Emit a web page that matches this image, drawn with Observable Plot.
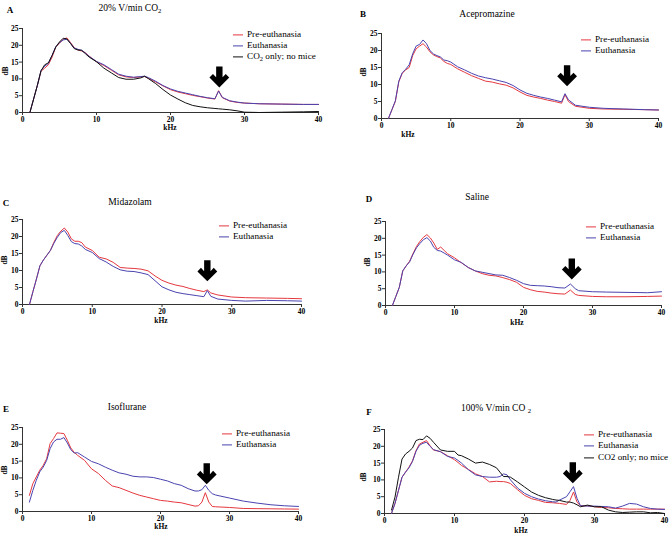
<!DOCTYPE html>
<html><head><meta charset="utf-8">
<script src="https://cdn.jsdelivr.net/npm/d3@7"></script>
<script src="https://cdn.jsdelivr.net/npm/@observablehq/plot@0.6"></script>
<style>
body{margin:0;background:#fff;}
#wrap{position:relative;width:672px;height:536px;font-family:"Liberation Serif","Times New Roman",serif;color:#000;overflow:hidden;background:#fff}
.abs{position:absolute;white-space:nowrap;line-height:1}
.panel{position:absolute}
.letter{font-weight:bold;font-size:9px;transform:translate(-50%,-50%)}
.title{font-size:9.5px;transform:translate(-50%,-50%)}
.ax{font-weight:bold;font-size:7.5px;transform:translate(-50%,-50%)}
.ylab{transform:translate(-50%,-50%) rotate(-90deg)}
.leg{font-size:9.2px;display:flex;align-items:center;transform:translateY(-50%)}
.sw{display:inline-block;width:10px;height:0;border-top:1.3px solid;margin-right:4px}
sub{font-size:70%;vertical-align:-2px;line-height:0}
</style></head>
<body><div id="wrap"></div>
<script>
// ---------- data (kHz, dB) ----------
const freqA = [1,1.5,2,2.5,3,3.5,4,4.5,5,5.5,6,6.5,7,7.5,8,8.5,9,10,11,12,13,14,15,16,16.5,17,18,19,20,21,22,23,24,25,26,26.5,27,28,29,30,32,35,38,40];
const aPre  = [0,4,8,12.3,13.2,14.2,16.5,19.5,20.6,21.8,22.2,20.8,19.3,18.6,18.3,17.8,16.8,15.1,14.0,12.6,11.2,10.6,10.4,10.6,10.7,10.2,9.1,7.9,6.8,6.1,5.6,5.1,4.7,4.3,4.0,6.5,4.4,3.4,3.0,2.8,2.6,2.5,2.4,2.4];
const aEuth = [0,4,8,12.5,13.8,14.6,17,19.6,20.8,21.6,21.8,20.6,19.2,18.8,18.5,17.7,16.7,15.2,14.2,12.8,11.4,10.8,10.5,10.7,10.8,10.4,9.3,8.0,7.0,6.3,5.8,5.3,4.8,4.4,4.1,6.4,4.5,3.5,3.1,2.8,2.6,2.5,2.4,2.4];
const aCO2  = [0,4,8,12.4,14.2,14.8,17,19.5,21,22.1,21.9,20.5,19,18.6,18.5,17.5,16.5,15.1,13.2,11.8,10.4,9.9,9.9,10.3,10.8,10.1,8.6,6.8,5.2,4.0,2.9,2.1,1.7,1.4,1.2,1.1,1.0,0.8,0.5,0.1,0.0,0.1,0.2,0.3];

const freqB = [1,1.5,2,2.5,3,3.5,4,4.5,5,5.5,6,6.5,7,7.5,8,8.5,9,9.5,10,11,12,13,14,15,16,17,18,19,20,21,22,23,24,25,26,26.5,27,28,30,32,35,38,40];
const bPre  = [0,2.5,5,10.8,13.3,14.3,15,18.5,20.5,21.3,22,21,19.6,18.7,18.2,17.8,16.8,16.2,15.9,14.6,13.6,12.6,11.8,11,10.7,10.2,9.8,9,7.8,6.8,6.3,5.9,5.4,5.0,4.5,7.0,5.0,3.6,3.0,2.8,2.7,2.6,2.5];
const bEuth = [0,2.6,5.2,11,13.5,14.5,15.8,19,21.3,21.8,23.1,22,20,19,18.5,18.1,17.2,17,16.6,15.2,14.3,13.3,12.5,12,11.6,11.1,10.6,9.7,8.4,7.4,6.8,6.3,5.9,5.4,4.9,7.3,5.5,3.9,3.3,3.0,2.8,2.6,2.5];

const freqC = [1,1.5,2,2.5,3,3.5,4,4.5,5,5.5,6,6.5,7,7.5,8,8.5,9,10,11,12,13,14,15,16,17,18,19,20,21,22,23,24,25,26,26.5,27,28,30,32,35,38,40];
const cPre  = [0,3.8,7.5,11.4,13.1,14.5,15.9,18.3,20.3,21.6,22.5,21.3,19.3,18.6,18.6,18.2,16.9,15.9,13.9,13.4,12.4,10.9,10.7,10.6,10.4,9.9,8.4,7.1,6.3,5.7,5.3,4.7,4.2,3.8,4.3,3.4,2.8,2.2,2.0,1.9,1.8,1.7];
const cEuth = [0,3.8,7.5,11.4,13.1,14.5,15.9,18,19.8,21.2,21.8,20.3,18.5,17.9,17.8,17.2,16.2,15.3,13.5,12.5,11.2,10.2,9.8,9.7,9.3,8.8,7.0,5.2,4.3,3.6,3.2,2.9,2.6,2.3,4.1,2.4,1.6,1.2,1.0,1.2,1.1,1.0];

const freqD = [1,1.5,2,2.5,3,3.5,4,4.5,5,5.5,6,6.5,7,7.5,8,8.5,9,10,11,12,13,14,15,16,17,18,19,20,21,22,23,24,25,26,26.8,27.5,28,30,32,35,38,40];
const dPre  = [0,2.7,5.4,10.3,11.8,13.2,15.5,17.6,19.1,20.3,21.1,20.1,18.6,16.7,17.4,16.4,15.4,14.2,12.7,11.3,10.3,9.5,9.0,8.8,8.3,7.7,6.9,5.4,4.7,4.2,4.0,3.7,3.5,3.4,4.6,3.3,3.0,2.7,2.6,2.6,2.7,2.8];
const dEuth = [0,2.7,5.4,10.3,11.8,13,15.3,17.2,18.5,19.6,20.2,19.2,17.3,16.4,16.2,15.6,15.0,13.6,12.8,11.3,10.3,9.9,9.5,9.1,9.0,8.3,7.5,6.5,6.0,5.9,5.8,5.6,5.3,5.2,6.4,5.0,4.4,4.1,4.0,3.9,3.8,4.1];

const freqE = [1,1.5,2,2.5,3,3.5,4,4.5,5,5.5,6,6.5,7,7.5,8,9,10,11,12,13,14,15,16,17,18,19,20,21,22,23,24,25,25.5,26,26.5,27,27.5,28,30,32,34,36,38,40];
const ePre  = [4.8,8.3,10.3,12.3,13.7,15.7,20.2,21.7,23.4,23.3,23.2,21.2,18.9,17.6,16.7,15.2,12.7,11.3,9.3,7.6,7.1,6.3,5.5,4.8,4.3,3.8,3.3,3.1,2.8,2.6,2.1,1.6,1.7,2.8,5.6,2.8,1.5,1.4,1.2,0.9,0.85,0.8,0.75,0.7];
const eEuth = [2.8,6.3,9.3,11.8,13.2,15.2,18.7,20.7,21.5,21.5,22,20.4,18.4,17.4,17.5,16.2,14.9,14.2,13.2,12.3,11.5,11.1,10.5,10.3,10.3,10.1,9.6,9.1,8.3,7.8,6.8,6.1,6.1,6.5,7.8,6.3,5.3,4.9,4.0,3.1,2.5,2.0,1.7,1.5];

const freqF = [1,1.5,2,2.5,3,3.5,4,4.5,5,5.5,6,6.5,7,8,9,10,10.5,11,12,13,14,15,16,16.5,17,17.5,18,19,20,21,22,23,24,24.5,25,26,26.5,27,27.5,28,29,30,31,32,33,34,35,36,37,38,39,40];
const fPre  = [0,3,6.9,10.8,12.3,13.8,15.7,18.7,20.7,21.2,21.7,20.2,18.9,18.4,17.2,16.0,15.2,14.3,13.1,11.8,11.0,9.4,9.6,9.5,9.5,9.3,8.9,7.1,5.4,4.4,3.9,3.3,3.2,3.1,3.0,2.7,3.9,6.4,3.4,2.3,2.3,2.0,1.8,1.7,1.5,1.4,1.3,1.3,1.3,1.3,1.3,1.3];
const fEuth = [0,3,6.9,10.8,12.3,13.6,15.5,18.5,20.3,20.9,21.2,20,19,18.4,17,16.5,15.8,15,13,11.5,11.0,10.8,10.8,11.0,11.8,11.5,10,7.6,6.0,5.0,4.3,3.8,3.5,3.4,4.0,5.0,6.5,8.0,4.5,2.3,2.2,2.2,2.1,2.0,1.6,2.2,3.0,2.8,2.0,1.5,1.3,1.2];
const fCO2  = [1.0,4.9,10.8,16.2,17.7,18.5,19.5,21.7,22.1,22,23.1,22.4,21.2,18.9,18.5,18.5,17.4,17.2,16.2,15.0,15.3,14.6,13.6,12.3,11.0,11.0,10.8,9.4,7.9,6.4,5.4,4.7,4.2,4.0,3.9,3.4,3.4,3.1,2.6,2.0,2.5,2.0,2.0,1.0,0.5,0.3,0.4,0.5,0.5,0.2,0.3,0.0];

// arrow annotations (kHz, dB of arrow centre)
const arrowX = [26.6, 26.8, 26.5, 27.0, 26.7, 26.9];
const arrowY = [10.6, 12.6, 9.9, 10.9, 11.2, 12.1];

const xTicks = [0,10,20,30,40];
const yTicks = [0,5,10,15,20,25];
const RED = "#e5383f", BLUE = "#4a44b0", BLACK = "#111";

// ---------- helpers ----------
const wrap = document.getElementById("wrap");
function put(html, cls, x, y) {
  const d = document.createElement("div");
  d.className = "abs " + cls;
  d.style.left = x + "px"; d.style.top = y + "px";
  d.innerHTML = html;
  wrap.appendChild(d);
}
const arrowSymbol = {
  draw(ctx, size) {
    const r = Math.sqrt(size / Math.PI) / 10.5;
    const pts = [[-3.2,-10.5],[3.2,-10.5],[3.2,0.3],[6.4,-3],[9.9,0.6],[0,10.5],[-9.9,0.6],[-6.4,-3],[-3.2,0.3]];
    ctx.moveTo(pts[0][0]*r, pts[0][1]*r);
    for (const p of pts.slice(1)) ctx.lineTo(p[0]*r, p[1]*r);
    ctx.closePath();
  }
};
function panel(cfg) {
  const marks = [
    Plot.ruleY([0], {stroke: "#333", strokeWidth: 1}),
    Plot.ruleX([0], {stroke: "#333", strokeWidth: 1}),
    Plot.axisX({ticks: xTicks, tickSize: 3, tickPadding: 1.5, label: null, fontWeight: "bold", fontSize: 7.5, stroke: "#333"}),
    Plot.axisY({ticks: yTicks, tickSize: 3, tickPadding: 1, label: null, fontWeight: "bold", fontSize: 7.5, stroke: "#333"})
  ];
  for (const s of cfg.series) {
    const data = cfg.freq.map((k, i) => ({k, v: s.values[i]}));
    marks.push(Plot.line(data, {x: "k", y: "v", stroke: s.color, strokeWidth: 1}));
  }
  marks.push(Plot.dot([{k: arrowX[cfg.idx], v: arrowY[cfg.idx]}], {x: "k", y: "v", r: 10.5, symbol: arrowSymbol, fill: "#000", stroke: "none"}));
  const p = Plot.plot({
    width: cfg.w, height: cfg.h,
    marginLeft: cfg.m[0], marginRight: cfg.m[1], marginTop: cfg.m[2], marginBottom: cfg.m[3],
    x: {domain: [0, 40]}, y: {domain: [0, 25]},
    style: {fontFamily: "'Liberation Serif', serif", fontSize: "7.5px", background: "transparent", overflow: "visible", color: "#000"},
    marks
  });
  const holder = document.createElement("div");
  holder.className = "panel";
  holder.style.left = cfg.left + "px"; holder.style.top = cfg.top + "px";
  holder.appendChild(p);
  wrap.appendChild(holder);
  put(cfg.letter, "letter", cfg.letterPos[0], cfg.letterPos[1]);
  put(cfg.title, "title", cfg.titlePos[0], cfg.titlePos[1]);
  put("dB", "ax ylab", cfg.dbPos[0], cfg.dbPos[1]);
  put("kHz", "ax", cfg.khzPos[0], cfg.khzPos[1]);
  cfg.series.forEach((s, i) => {
    put(`<span class="sw" style="border-color:${s.color}"></span><span>${s.label}</span>`, "leg", cfg.leg[0], cfg.leg[1][i]);
  });
}

panel({idx: 0, left: 0, top: 0, w: 336, h: 140, m: [22, 18, 28, 28], freq: freqA,
  series: [{values: aPre, color: RED, label: "Pre-euthanasia"}, {values: aEuth, color: BLUE, label: "Euthanasia"}, {values: aCO2, color: BLACK, label: "CO<sub>2</sub> only; no mice"}],
  letter: "A", letterPos: [10, 10], title: "20% V/min CO<sub>2</sub>", titlePos: [130, 9], dbPos: [6, 71], khzPos: [170, 128], leg: [233, [35, 46, 57]]});
panel({idx: 1, left: 336, top: 0, w: 336, h: 145, m: [45, 14, 33, 27], freq: freqB,
  series: [{values: bPre, color: RED, label: "Pre-euthanasia"}, {values: bEuth, color: BLUE, label: "Euthanasia"}],
  letter: "B", letterPos: [363, 14], title: "Acepromazine", titlePos: [487, 15], dbPos: [364, 72], khzPos: [408, 135], leg: [581, [40, 51]]});
panel({idx: 2, left: 0, top: 190, w: 336, h: 140, m: [22, 35, 29, 26], freq: freqC,
  series: [{values: cPre, color: RED, label: "Pre-euthanasia"}, {values: cEuth, color: BLUE, label: "Euthanasia"}],
  letter: "C", letterPos: [6, 203], title: "Midazolam", titlePos: [130, 203], dbPos: [5, 260], khzPos: [161, 321], leg: [219, [226, 237]]});
panel({idx: 3, left: 336, top: 190, w: 336, h: 140, m: [49, 11, 31, 25], freq: freqD,
  series: [{values: dPre, color: RED, label: "Pre-euthanasia"}, {values: dEuth, color: BLUE, label: "Euthanasia"}],
  letter: "D", letterPos: [369, 199], title: "Saline", titlePos: [477, 198], dbPos: [368, 262], khzPos: [517, 323], leg: [586, [227, 238]]});
panel({idx: 4, left: 0, top: 400, w: 336, h: 136, m: [22, 38, 27, 25], freq: freqE,
  series: [{values: ePre, color: RED, label: "Pre-euthanasia"}, {values: eEuth, color: BLUE, label: "Euthanasia"}],
  letter: "E", letterPos: [6, 409], title: "Isoflurane", titlePos: [127, 408], dbPos: [5, 470], khzPos: [161, 527], leg: [222, [434, 445]]});
panel({idx: 5, left: 336, top: 400, w: 336, h: 136, m: [48, 8, 29, 23], freq: freqF,
  series: [{values: fPre, color: RED, label: "Pre-euthanasia"}, {values: fEuth, color: BLUE, label: "Euthanasia"}, {values: fCO2, color: BLACK, label: "CO2 only; no mice"}],
  letter: "F", letterPos: [369, 412], title: "100% V/min CO <sub>2</sub>", titlePos: [496, 409], dbPos: [364, 477], khzPos: [521, 531], leg: [584, [435, 446, 458]]});
</script>
</body></html>
